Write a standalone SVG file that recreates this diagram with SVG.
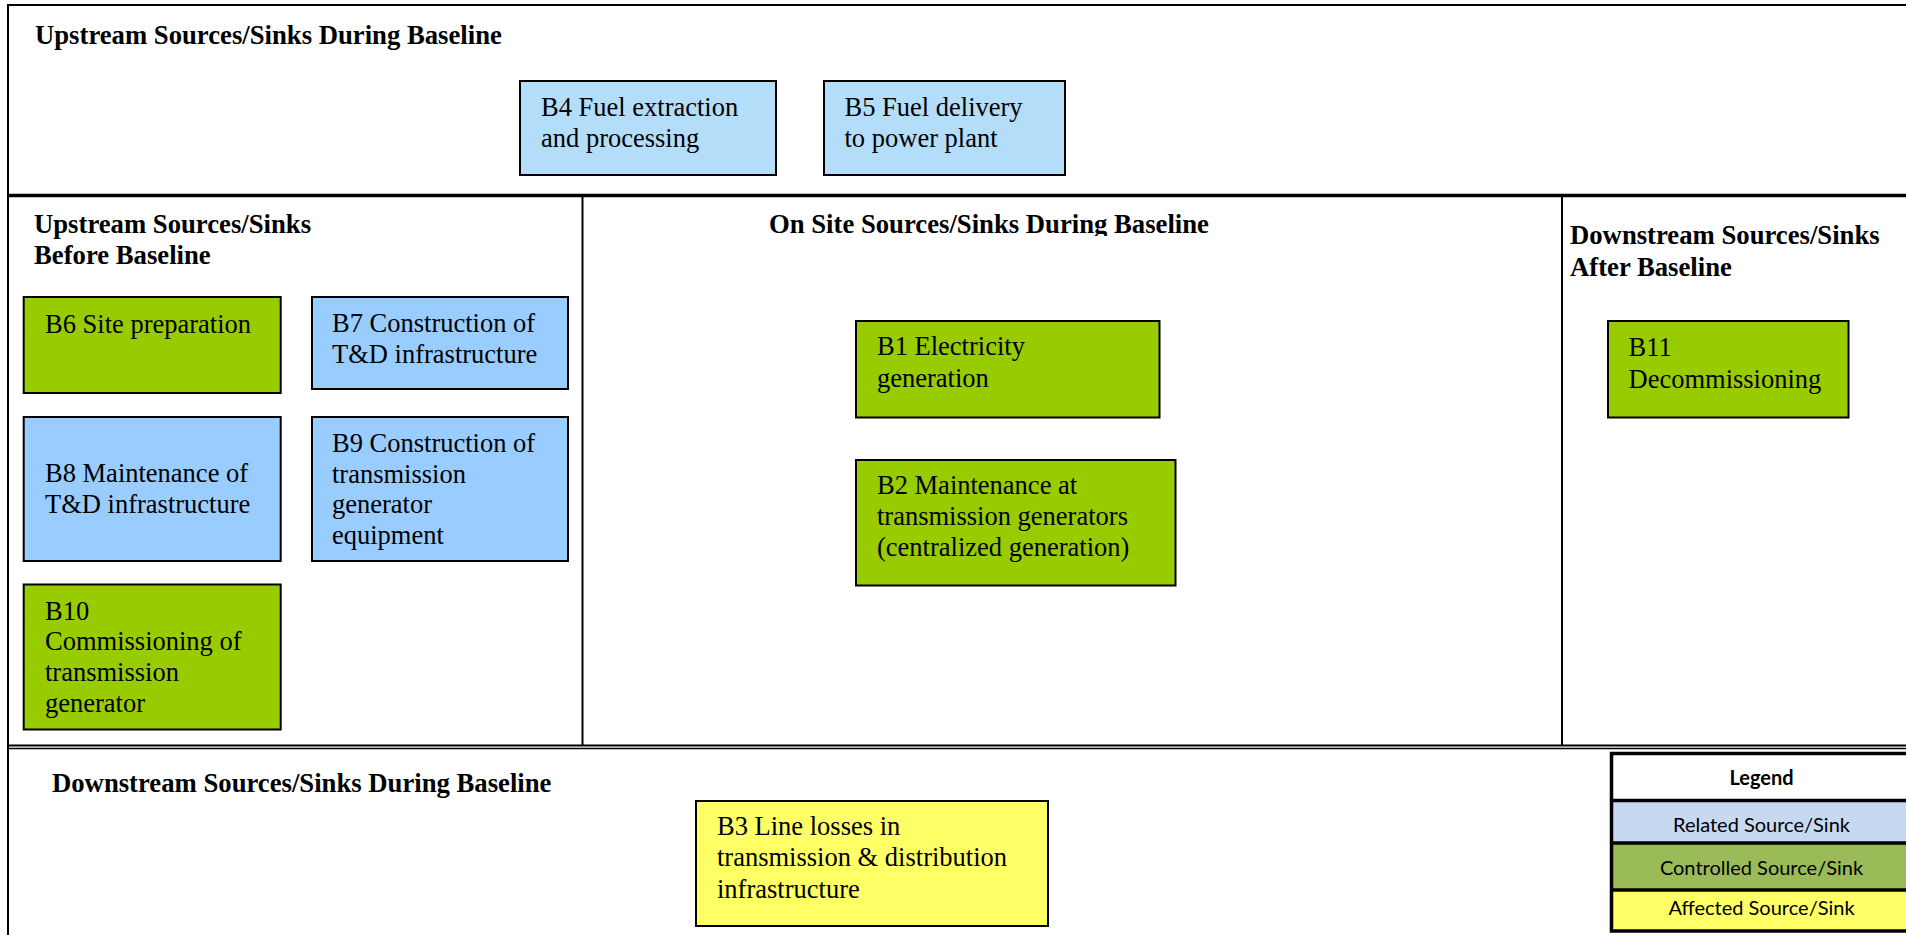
<svg xmlns="http://www.w3.org/2000/svg" width="1906" height="935" viewBox="0 0 1906 935">
<style>
  .frame { stroke: #000; fill: none; }
  .box { stroke: #000; stroke-width: 2; }
  .rel1 { fill: #B3DDF9; }
  .rel2 { fill: #99CCFF; }
  .ctl { fill: #99CC00; }
  .aff { fill: #FFFF66; }
  .t { font-family: "Liberation Serif", "Times New Roman", serif; font-size: 26.5px; fill: #000; }
  .h { font-family: "Liberation Serif", "Times New Roman", serif; font-size: 26.7px; font-weight: bold; fill: #000; }
  .lg { font-family: Lato, "Open Sans", sans-serif; font-size: 20px; fill: #000; text-anchor: middle; }
</style>
<defs>
  <clipPath id="onsiteClip"><rect x="583" y="197" width="978" height="39"/></clipPath>
</defs>
<rect x="0" y="0" width="1906" height="935" fill="#fff"/>

<g id="frame">
  <line class="frame" x1="7" y1="5" x2="1906" y2="5" stroke-width="2"/>
  <line class="frame" x1="8" y1="4" x2="8" y2="935" stroke-width="2"/>
  <line class="frame" x1="7" y1="195.5" x2="1906" y2="195.5" stroke-width="3.5"/>
  <line class="frame" x1="582.5" y1="196" x2="582.5" y2="746" stroke-width="2"/>
  <line class="frame" x1="1562" y1="196" x2="1562" y2="746" stroke-width="2"/>
  <line class="frame" x1="7" y1="745.5" x2="1906" y2="745.5" stroke-width="2"/>
  <line class="frame" x1="7" y1="748.5" x2="1906" y2="748.5" stroke-width="1.5"/>
</g>

<g id="section-titles">
  <text class="h" x="35" y="44">Upstream Sources/Sinks During Baseline</text>
  <text class="h" x="34" y="233">Upstream Sources/Sinks</text>
  <text class="h" x="34" y="263.5">Before Baseline</text>
  <text class="h" x="769" y="233" clip-path="url(#onsiteClip)">On Site Sources/Sinks During Baseline</text>
  <text class="h" x="1570" y="243.5">Downstream Sources/Sinks</text>
  <text class="h" x="1570" y="275.5">After Baseline</text>
  <text class="h" x="52" y="792">Downstream Sources/Sinks During Baseline</text>
</g>

<g id="B4">
  <rect class="box rel1" x="520" y="81" width="256" height="94"/>
  <text class="t" x="541" y="116">B4 Fuel extraction</text>
  <text class="t" x="541" y="147.3">and processing</text>
</g>
<g id="B5">
  <rect class="box rel1" x="824" y="81" width="241" height="94"/>
  <text class="t" x="844.5" y="116">B5 Fuel delivery</text>
  <text class="t" x="844.5" y="147.3">to power plant</text>
</g>

<g id="B6">
  <rect class="box ctl" x="23.7" y="297" width="257" height="96"/>
  <text class="t" x="45" y="333">B6 Site preparation</text>
</g>
<g id="B7">
  <rect class="box rel2" x="312" y="297" width="256" height="92"/>
  <text class="t" x="332" y="332">B7 Construction of</text>
  <text class="t" x="332" y="363">T&amp;D infrastructure</text>
</g>
<g id="B8">
  <rect class="box rel2" x="23.7" y="417" width="257" height="144"/>
  <text class="t" x="45" y="482">B8 Maintenance of</text>
  <text class="t" x="45" y="513">T&amp;D infrastructure</text>
</g>
<g id="B9">
  <rect class="box rel2" x="312" y="417" width="256" height="144"/>
  <text class="t" x="332" y="452">B9 Construction of</text>
  <text class="t" x="332" y="482.5">transmission</text>
  <text class="t" x="332" y="513">generator</text>
  <text class="t" x="332" y="543.5">equipment</text>
</g>
<g id="B10">
  <rect class="box ctl" x="23.7" y="584.5" width="257" height="145"/>
  <text class="t" x="45" y="619.5">B10</text>
  <text class="t" x="45" y="650">Commissioning of</text>
  <text class="t" x="45" y="680.5">transmission</text>
  <text class="t" x="45" y="711.5">generator</text>
</g>

<g id="B1">
  <rect class="box ctl" x="856" y="321" width="303.5" height="96.5"/>
  <text class="t" x="877" y="355">B1 Electricity</text>
  <text class="t" x="877" y="386.5">generation</text>
</g>
<g id="B2">
  <rect class="box ctl" x="856" y="460" width="319.5" height="125.5"/>
  <text class="t" x="877" y="493.5">B2 Maintenance at</text>
  <text class="t" x="877" y="525">transmission generators</text>
  <text class="t" x="877" y="556">(centralized generation)</text>
</g>

<g id="B11">
  <rect class="box ctl" x="1608" y="321" width="240.5" height="96.5"/>
  <text class="t" x="1628.5" y="355.5">B11</text>
  <text class="t" x="1628.5" y="387.5">Decommissioning</text>
</g>

<g id="B3">
  <rect class="box aff" x="696" y="801" width="352" height="125"/>
  <text class="t" x="717" y="835">B3 Line losses in</text>
  <text class="t" x="717" y="866">transmission &amp; distribution</text>
  <text class="t" x="717" y="897.5">infrastructure</text>
</g>

<g id="legend">
  <rect x="1611.5" y="753.5" width="300" height="47" fill="#fff"/>
  <rect x="1611.5" y="800.5" width="300" height="42.5" fill="#C6D9F1"/>
  <rect x="1611.5" y="843" width="300" height="47" fill="#9BBB59"/>
  <rect x="1611.5" y="890" width="300" height="41" fill="#FFFF66"/>
  <g stroke="#000" stroke-width="3.5" fill="none">
    <rect x="1611.5" y="753.5" width="300" height="177.5"/>
    <line x1="1611.5" y1="800.5" x2="1911" y2="800.5"/>
    <line x1="1611.5" y1="843" x2="1911" y2="843"/>
    <line x1="1611.5" y1="890" x2="1911" y2="890"/>
  </g>
  <text class="lg" x="1761.5" y="785" font-weight="bold">Legend</text>
  <text class="lg" x="1761.5" y="831.5">Related Source/Sink</text>
  <text class="lg" x="1761.5" y="875">Controlled Source/Sink</text>
  <text class="lg" x="1761.5" y="915">Affected Source/Sink</text>
</g>
</svg>
